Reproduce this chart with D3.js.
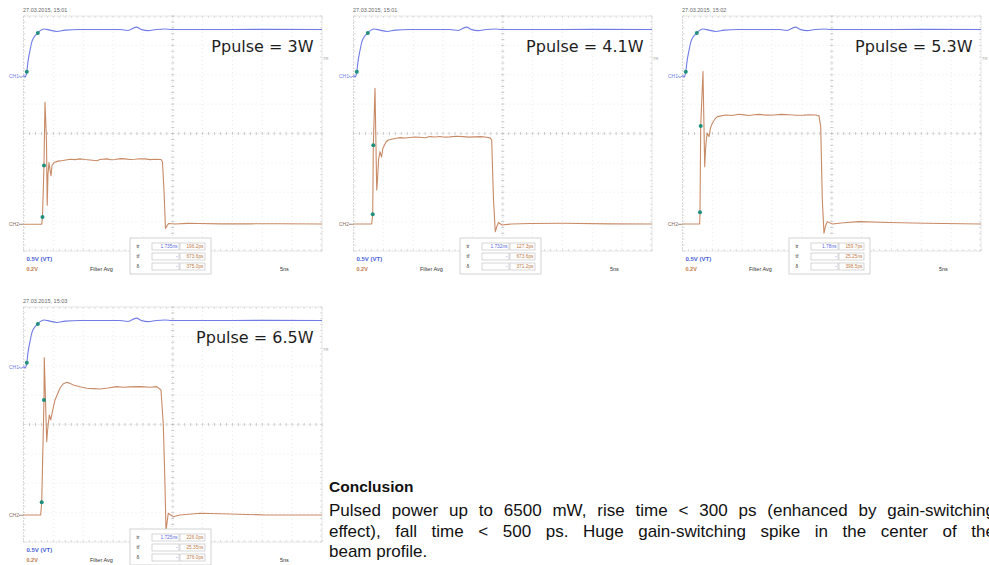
<!DOCTYPE html>
<html><head><meta charset="utf-8">
<script src="https://cdn.jsdelivr.net/npm/d3@7"></script>
<style>body{margin:0;background:#fff}svg{display:block}</style>
</head><body>
<svg id="c" width="989" height="565"></svg>
<script>
// ---------- DATA ----------
const panelTitles = ["Ppulse = 3W", "Ppulse = 4.1W", "Ppulse = 5.3W", "Ppulse = 6.5W"];
const timestamps = ["27.03.2015, 15:01", "27.03.2015, 15:01", "27.03.2015, 15:02", "27.03.2015, 15:03"];
// CH1 (trigger, 0.5 V/div) time [ns], volts
const ch1Trace = [[0,0.01],[0.25,-0.02],[0.55,0.07],[0.75,0.24],[1.1,0.44],[1.4,0.58],[1.75,0.66],[2.4,0.73],[2.8,0.77],[3.4,0.80],[4.4,0.78],[5.6,0.757],[7.0,0.78],[9.5,0.79],[13,0.79],[16.2,0.79],[17.5,0.774],[18.9,0.83],[19.8,0.788],[20.9,0.771],[22.2,0.79],[23.7,0.80],[24.9,0.79],[30,0.79],[40,0.792],[50,0.79]];
const ch1Markers = [[0.55,0.07],[2.4,0.73]];
// CH2 (optical pulse, 0.2 V/div) time [ns], volts
const ch2_3W = [[0,0],[3.05,0],[3.18,0.05],[3.43,0.40],[3.60,0.83],[3.85,0.57],[3.97,0.13],[4.10,0.34],[4.27,0.42],[4.44,0.37],[4.61,0.33],[4.77,0.40],[5.11,0.42],[5.78,0.43],[6.62,0.434],[7.79,0.443],[8.6,0.440],[9.46,0.445],[10.3,0.441],[11.14,0.438],[12.31,0.433],[12.81,0.441],[13.99,0.445],[14.6,0.439],[15.33,0.441],[16.2,0.447],[17.0,0.445],[17.8,0.441],[18.68,0.443],[19.5,0.446],[20.36,0.445],[21.2,0.440],[22.03,0.443],[23.04,0.441],[23.28,0.424],[23.53,0.234],[23.78,-0.029],[24.03,-0.012],[24.29,0.005],[25.37,0.002],[27.5,0.006],[29.56,0.005],[33,0.003],[37.94,0.003],[43,0.004],[50,0.002]];
const ch2_4_1W = [[0,0.002],[3.05,0.002],[3.22,0.068],[3.32,0.538],[3.60,0.926],[3.89,0.234],[4.02,0.302],[4.19,0.438],[4.44,0.494],[4.69,0.458],[4.94,0.520],[5.44,0.560],[5.83,0.574],[6.95,0.584],[7.79,0.590],[8.6,0.587],[9.46,0.591],[10.3,0.594],[11.14,0.592],[12.0,0.589],[12.81,0.597],[13.6,0.594],[14.49,0.598],[15.3,0.593],[16.16,0.595],[17.2,0.599],[18.34,0.597],[19.3,0.593],[20.35,0.595],[21.3,0.597],[22.31,0.592],[22.86,0.588],[23.15,0.574],[23.45,0.165],[23.75,-0.050],[24.04,-0.012],[24.29,0.012],[24.87,-0.005],[26.5,0.002],[29.56,0.005],[35.1,0.007],[42.96,0.003],[50,0.002]];
const ch2_5_3W = [[0,0.002],[2.88,0.002],[2.93,0.082],[3.05,0.669],[3.43,1.039],[3.72,0.392],[3.85,0.506],[3.99,0.574],[4.15,0.620],[4.44,0.597],[4.69,0.656],[4.99,0.688],[5.44,0.717],[5.83,0.733],[7.24,0.744],[8.3,0.741],[9.46,0.749],[10.3,0.745],[11.14,0.741],[12.0,0.746],[12.81,0.748],[14.0,0.743],[15.33,0.744],[16.6,0.748],[17.84,0.746],[19.1,0.742],[20.35,0.743],[21.3,0.746],[22.31,0.744],[22.86,0.738],[23.15,0.665],[23.42,0.165],[23.70,-0.061],[23.95,-0.012],[24.25,0.018],[25.09,0.002],[27.0,0.010],[29.56,0.018],[34.6,0.012],[40.7,0.007],[50,0.002]];
const ch2_6_5W = [[0,0.002],[2.88,0.002],[3.05,0.089],[3.43,0.785],[3.48,1.073],[3.89,0.501],[4.02,0.574],[4.32,0.683],[4.56,0.649],[4.94,0.724],[5.28,0.785],[6.11,0.865],[6.62,0.894],[7.24,0.906],[7.79,0.898],[8.34,0.887],[9.46,0.875],[10.59,0.865],[11.7,0.862],[12.81,0.860],[14.15,0.867],[15.61,0.876],[16.7,0.872],[17.84,0.874],[19.51,0.876],[21.19,0.872],[22.31,0.876],[23.03,0.853],[23.42,0.615],[23.70,0.206],[23.87,-0.107],[24.04,-0.052],[24.25,0.014],[25.09,-0.010],[26.2,0.002],[29.56,0.014],[34.6,0.009],[40.7,0.002],[50,0.002]];
const ch2Traces = [ch2_3W, ch2_4_1W, ch2_5_3W, ch2_6_5W];
const ch2Markers = [[[3.18,0.05],[3.43,0.40]], [[3.22,0.068],[3.32,0.538]], [[2.93,0.082],[3.05,0.669]], [[3.05,0.089],[3.43,0.785]]];
const measLabels = ["tr", "tf", "δ"];
const measCh1 = [["1.735ns","-","-"],["1.732ns","-","-"],["1.78ns","-","-"],["1.725ns","-","-"]];
const measCh2 = [["196.2ps","673.6ps","375.0ps"],["127.3ps","673.6ps","371.2ps"],["159.7ps","25.25ns","398.5ps"],["226.0ps","25.35ns","376.0ps"]];
const timeDomain = [0, 50];     // 5 ns/div x 10 div
const ch1Domain = [-2.98, 1.02]; // 0.5 V/div, 8 div
const ch2Domain = [-0.182, 1.418]; // 0.2 V/div, 8 div
const conclusionTitle = "Conclusion";
const conclusionLines = ["Pulsed power up to 6500 mW, rise time < 300 ps (enhanced by gain-switching",
  "effect), fall time < 500 ps.  Huge gain-switching spike in the center of the",
  "beam profile."];

// ---------- LAYOUT ----------
const svg = d3.select("#c");
const offsets = [[0,0],[330,0],[659,0],[0,291]];
const L = 23.5, R = 322, T = 16, B = 251;
const blue = "#6f7ce6", orange = "#c98a66", teal = "#1f8f7c";
const smallFont = "'Liberation Sans', Arial, sans-serif";

panelTitles.forEach((title, i) => {
  const g = svg.append("g").attr("transform", `translate(${offsets[i][0]},${offsets[i][1]})`);
  const x = d3.scaleLinear().domain(timeDomain).range([L, R]);
  const yDiv = d3.scaleLinear().domain([-4, 4]).range([B, T]);
  const y1 = d3.scaleLinear().domain(ch1Domain).range([B, T]);
  const y2 = d3.scaleLinear().domain(ch2Domain).range([B, T]);

  // grid
  const grid = g.append("g");
  d3.range(1, 10).filter(d => d !== 5).forEach(d => {
    grid.append("line").attr("x1", x(d*5)).attr("x2", x(d*5)).attr("y1", T).attr("y2", B)
      .attr("stroke", "#e6e6e6").attr("stroke-width", 0.8).attr("stroke-dasharray", "1,3");
  });
  d3.range(-3, 4).filter(d => d !== 0).forEach(d => {
    grid.append("line").attr("x1", L).attr("x2", R).attr("y1", yDiv(d)).attr("y2", yDiv(d))
      .attr("stroke", "#e6e6e6").attr("stroke-width", 0.8).attr("stroke-dasharray", "1,3");
  });
  // center cross with minor ticks
  grid.append("line").attr("x1", x(25)).attr("x2", x(25)).attr("y1", T).attr("y2", B)
    .attr("stroke", "#d6d6d6").attr("stroke-width", 0.7).attr("stroke-dasharray", "1,2");
  grid.append("line").attr("x1", L).attr("x2", R).attr("y1", yDiv(0)).attr("y2", yDiv(0))
    .attr("stroke", "#d6d6d6").attr("stroke-width", 0.7).attr("stroke-dasharray", "1,2");
  d3.range(0, 50.01, 1).forEach(t => {
    grid.append("line").attr("x1", x(t)).attr("x2", x(t)).attr("y1", yDiv(0)-1.5).attr("y2", yDiv(0)+1.5)
      .attr("stroke", "#bdbdbd").attr("stroke-width", 0.8);
    grid.append("line").attr("x1", x(t)).attr("x2", x(t)).attr("y1", B-2).attr("y2", B)
      .attr("stroke", "#d0d0d0").attr("stroke-width", 0.7);
    grid.append("line").attr("x1", x(t)).attr("x2", x(t)).attr("y1", T).attr("y2", T+2)
      .attr("stroke", "#d0d0d0").attr("stroke-width", 0.7);
  });
  d3.range(-4, 4.01, 0.2).forEach(v => {
    grid.append("line").attr("x1", x(25)-1.5).attr("x2", x(25)+1.5).attr("y1", yDiv(v)).attr("y2", yDiv(v))
      .attr("stroke", "#bdbdbd").attr("stroke-width", 0.8);
    grid.append("line").attr("x1", L).attr("x2", L+2).attr("y1", yDiv(v)).attr("y2", yDiv(v))
      .attr("stroke", "#d0d0d0").attr("stroke-width", 0.7);
    grid.append("line").attr("x1", R-2).attr("x2", R).attr("y1", yDiv(v)).attr("y2", yDiv(v))
      .attr("stroke", "#d0d0d0").attr("stroke-width", 0.7);
  });
  grid.append("rect").attr("x", L).attr("y", T).attr("width", R-L).attr("height", B-T)
    .attr("fill", "none").attr("stroke", "#cfcfcf").attr("stroke-width", 0.8).attr("stroke-dasharray", "2,1");

  // timestamp
  g.append("text").attr("x", L-0.5).attr("y", 12).text(timestamps[i])
    .attr("font-family", smallFont).attr("font-size", 5.5).attr("fill", "#666");

  // traces
  const line1 = d3.line().x(d => x(d[0])).y(d => y1(d[1])).curve(d3.curveMonotoneX);
  const line2 = d3.line().x(d => x(d[0])).y(d => y2(d[1]));
  g.append("path").attr("d", line2(ch2Traces[i])).attr("fill", "none")
    .attr("stroke", orange).attr("stroke-width", 1.1).attr("stroke-linejoin", "round");
  g.append("path").attr("d", line1(ch1Trace)).attr("fill", "none")
    .attr("stroke", blue).attr("stroke-width", 1.1);
  g.selectAll(".m1").data(ch1Markers).join("circle")
    .attr("cx", d => x(d[0])).attr("cy", d => y1(d[1])).attr("r", 2).attr("fill", teal);
  g.selectAll(".m2").data(ch2Markers[i]).join("circle")
    .attr("cx", d => x(d[0])).attr("cy", d => y2(d[1])).attr("r", 2).attr("fill", teal);

  // channel ground markers
  g.append("text").attr("x", 9).attr("y", y1(0)+2).text("CH1")
    .attr("font-family", smallFont).attr("font-size", 5).attr("fill", blue);
  g.append("path").attr("d", `M19,${y1(0)} L21,${y1(0)+1.5} L${L},${y1(0)}`)
    .attr("fill", "none").attr("stroke", blue).attr("stroke-width", 0.8);
  g.append("text").attr("x", 9).attr("y", y2(0)+2).text("CH2")
    .attr("font-family", smallFont).attr("font-size", 5).attr("fill", "#8a6a58");
  g.append("path").attr("d", `M19,${y2(0)} L${L},${y2(0)}`)
    .attr("fill", "none").attr("stroke", "#8a6a58").attr("stroke-width", 0.8);
  g.append("text").attr("x", R+1).attr("y", 60).text("TR")
    .attr("font-family", smallFont).attr("font-size", 4).attr("fill", "#999");

  // title
  g.append("text").attr("x", 313.5).attr("y", 52).attr("text-anchor", "end").text(title)
    .attr("font-family", "'DejaVu Sans', sans-serif").attr("font-size", 16).attr("fill", "#1e1e1e");

  // bottom labels
  g.append("text").attr("x", 26.5).attr("y", 261).text("0.5V (VT)")
    .attr("font-family", smallFont).attr("font-size", 6).attr("font-weight", "bold").attr("fill", "#4a5fd8");
  g.append("text").attr("x", 26.5).attr("y", 270.5).text("0.2V")
    .attr("font-family", smallFont).attr("font-size", 5.5).attr("font-weight", "bold").attr("fill", "#c07a4a");
  g.append("text").attr("x", 90).attr("y", 270.5).text("Filter Avg")
    .attr("font-family", smallFont).attr("font-size", 5.5).attr("fill", "#333");
  g.append("text").attr("x", 280).attr("y", 270.5).text("5ns")
    .attr("font-family", smallFont).attr("font-size", 5.5).attr("fill", "#333");

  // measurement box
  const mb = g.append("g");
  mb.append("rect").attr("x", 130).attr("y", 238).attr("width", 81).attr("height", 36)
    .attr("fill", "#fff").attr("stroke", "#c8c8c8").attr("stroke-width", 0.8);
  measLabels.forEach((lab, r) => {
    const cy = 246.5 + r*10;
    mb.append("text").attr("x", 138).attr("y", cy+1.8).attr("text-anchor", "middle").text(lab)
      .attr("font-family", smallFont).attr("font-size", 5).attr("fill", "#333");
    mb.append("rect").attr("x", 152).attr("y", cy-3.5).attr("width", 27).attr("height", 7)
      .attr("fill", "#fff").attr("stroke", "#bbb").attr("stroke-width", 0.6);
    mb.append("rect").attr("x", 180).attr("y", cy-3.5).attr("width", 25).attr("height", 7)
      .attr("fill", "#fff").attr("stroke", "#bbb").attr("stroke-width", 0.6);
    mb.append("text").attr("x", 177.5).attr("y", cy+1.8).attr("text-anchor", "end").text(measCh1[i][r])
      .attr("font-family", smallFont).attr("font-size", 4.8).attr("fill", "#5a6ae0");
    mb.append("text").attr("x", 203.5).attr("y", cy+1.8).attr("text-anchor", "end").text(measCh2[i][r])
      .attr("font-family", smallFont).attr("font-size", 4.8).attr("fill", "#c07a4a");
  });
});

// ---------- CONCLUSION TEXT ----------
const tx = 329;
svg.append("text").attr("x", tx).attr("y", 492).text(conclusionTitle)
  .attr("font-family", smallFont).attr("font-size", 15.5).attr("font-weight", "bold").attr("fill", "#111");
const lineY = [516, 536.5, 557];
conclusionLines.forEach((ln, k) => {
  const t = svg.append("text").attr("x", tx).attr("y", lineY[k]).text(ln)
    .attr("font-family", smallFont).attr("font-size", 17).attr("fill", "#111");
  if (k < 2) {
    const nat = t.node().getComputedTextLength();
    const n = (ln.replace(/ +/g, " ").match(/ /g) || []).length;
    const target = 666;
    if (target > nat) t.style("word-spacing", ((target - nat) / n) + "px");
  }
});
</script>
</body></html>
